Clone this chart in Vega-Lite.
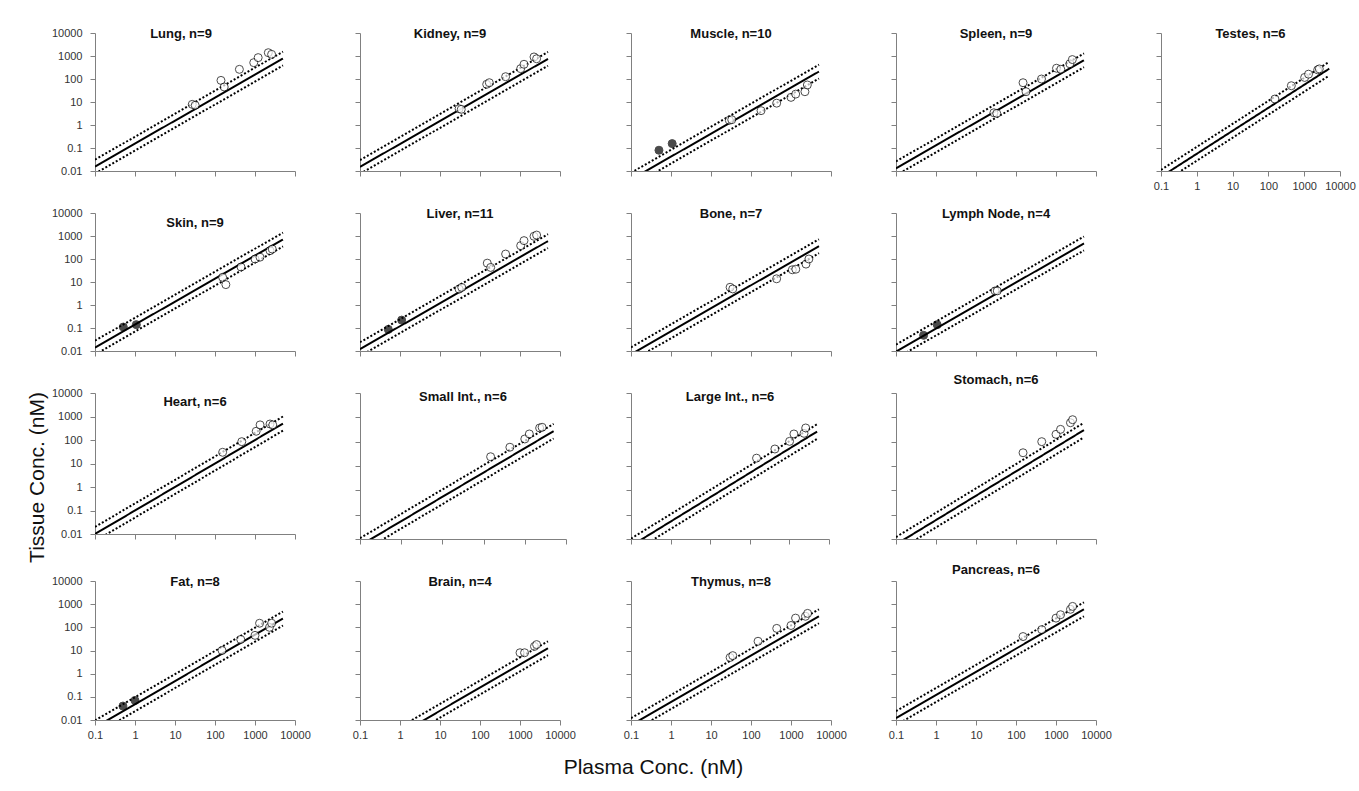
{
"$schema":"https://vega.github.io/schema/vega-lite/v6.json",
"background":"white",
"padding":{"left":26,"top":27,"right":10,"bottom":8},
"columns":5,
"bounds":"flush",
"align":"each",
"spacing":{"row":42,"column":65},
"datasets":{
"pts":[
{"t":"Lung","f":"o","x":27,"y":7.9},{"t":"Lung","f":"o","x":32,"y":7.2},{"t":"Lung","f":"o","x":141,"y":87},{"t":"Lung","f":"o","x":170,"y":45},{"t":"Lung","f":"o","x":407,"y":263},{"t":"Lung","f":"o","x":930,"y":513},{"t":"Lung","f":"o","x":1200,"y":850},{"t":"Lung","f":"o","x":2150,"y":1390},{"t":"Lung","f":"o","x":2600,"y":1180},
{"t":"Kidney","f":"o","x":30,"y":5.1},{"t":"Kidney","f":"o","x":34,"y":4.8},{"t":"Kidney","f":"o","x":147,"y":59},{"t":"Kidney","f":"o","x":171,"y":69},{"t":"Kidney","f":"o","x":437,"y":126},{"t":"Kidney","f":"o","x":1040,"y":282},{"t":"Kidney","f":"o","x":1260,"y":436},{"t":"Kidney","f":"o","x":2240,"y":910},{"t":"Kidney","f":"o","x":2600,"y":760},
{"t":"Muscle","f":"f","x":0.5,"y":0.08},{"t":"Muscle","f":"f","x":1.07,"y":0.155},{"t":"Muscle","f":"o","x":28.7,"y":1.6},{"t":"Muscle","f":"o","x":33,"y":1.7},{"t":"Muscle","f":"o","x":178,"y":4.2},{"t":"Muscle","f":"o","x":438,"y":8.9},{"t":"Muscle","f":"o","x":1000,"y":15.9},{"t":"Muscle","f":"o","x":1310,"y":22},{"t":"Muscle","f":"o","x":2230,"y":28},{"t":"Muscle","f":"o","x":2560,"y":55},
{"t":"Spleen","f":"o","x":28,"y":3.4},{"t":"Spleen","f":"o","x":33,"y":3.2},{"t":"Spleen","f":"o","x":150,"y":69},{"t":"Spleen","f":"o","x":178,"y":28},{"t":"Spleen","f":"o","x":434,"y":100},{"t":"Spleen","f":"o","x":1030,"y":294},{"t":"Spleen","f":"o","x":1320,"y":265},{"t":"Spleen","f":"o","x":2220,"y":460},{"t":"Spleen","f":"o","x":2560,"y":700},
{"t":"Testes","f":"o","x":152,"y":13.5},{"t":"Testes","f":"o","x":437,"y":51},{"t":"Testes","f":"o","x":1030,"y":117},{"t":"Testes","f":"o","x":1320,"y":162},{"t":"Testes","f":"o","x":2380,"y":250},{"t":"Testes","f":"o","x":2640,"y":275},
{"t":"Skin","f":"f","x":0.51,"y":0.11},{"t":"Skin","f":"f","x":1.08,"y":0.14},{"t":"Skin","f":"o","x":155,"y":16},{"t":"Skin","f":"o","x":187,"y":7.7},{"t":"Skin","f":"o","x":447,"y":45},{"t":"Skin","f":"o","x":1000,"y":100},{"t":"Skin","f":"o","x":1330,"y":120},{"t":"Skin","f":"o","x":2370,"y":230},{"t":"Skin","f":"o","x":2700,"y":270},
{"t":"Liver","f":"f","x":0.51,"y":0.087},{"t":"Liver","f":"f","x":1.1,"y":0.22},{"t":"Liver","f":"o","x":30,"y":4.9},{"t":"Liver","f":"o","x":35,"y":5.8},{"t":"Liver","f":"o","x":152,"y":66},{"t":"Liver","f":"o","x":185,"y":43},{"t":"Liver","f":"o","x":437,"y":164},{"t":"Liver","f":"o","x":1040,"y":380},{"t":"Liver","f":"o","x":1260,"y":630},{"t":"Liver","f":"o","x":2240,"y":970},{"t":"Liver","f":"o","x":2600,"y":1100},
{"t":"Bone","f":"o","x":30,"y":5.9},{"t":"Bone","f":"o","x":35,"y":5.0},{"t":"Bone","f":"o","x":437,"y":13.8},{"t":"Bone","f":"o","x":1080,"y":34},{"t":"Bone","f":"o","x":1320,"y":36},{"t":"Bone","f":"o","x":2370,"y":60},{"t":"Bone","f":"o","x":2800,"y":100},
{"t":"Lymph","f":"f","x":0.49,"y":0.048},{"t":"Lymph","f":"f","x":1.07,"y":0.14},{"t":"Lymph","f":"o","x":30,"y":4.1},{"t":"Lymph","f":"o","x":34,"y":4.1},
{"t":"Heart","f":"o","x":155,"y":30},{"t":"Heart","f":"o","x":467,"y":85},{"t":"Heart","f":"o","x":1070,"y":235},{"t":"Heart","f":"o","x":1340,"y":440},{"t":"Heart","f":"o","x":2370,"y":480},{"t":"Heart","f":"o","x":2780,"y":440},
{"t":"SmallInt","f":"o","x":148,"y":24},{"t":"SmallInt","f":"o","x":434,"y":59},{"t":"SmallInt","f":"o","x":1000,"y":129},{"t":"SmallInt","f":"o","x":1290,"y":207},{"t":"SmallInt","f":"o","x":2290,"y":365},{"t":"SmallInt","f":"o","x":2630,"y":390},
{"t":"LargeInt","f":"o","x":148,"y":21},{"t":"LargeInt","f":"o","x":430,"y":50},{"t":"LargeInt","f":"o","x":1010,"y":103},{"t":"LargeInt","f":"o","x":1300,"y":207},{"t":"LargeInt","f":"o","x":2340,"y":220},{"t":"LargeInt","f":"o","x":2580,"y":365},
{"t":"Stomach","f":"o","x":150,"y":35},{"t":"Stomach","f":"o","x":440,"y":100},{"t":"Stomach","f":"o","x":1000,"y":200},{"t":"Stomach","f":"o","x":1300,"y":320},{"t":"Stomach","f":"o","x":2300,"y":600},{"t":"Stomach","f":"o","x":2600,"y":800},
{"t":"Fat","f":"f","x":0.5,"y":0.04},{"t":"Fat","f":"f","x":1.0,"y":0.07},{"t":"Fat","f":"o","x":150,"y":10},{"t":"Fat","f":"o","x":440,"y":30},{"t":"Fat","f":"o","x":1000,"y":45},{"t":"Fat","f":"o","x":1300,"y":150},{"t":"Fat","f":"o","x":2300,"y":100},{"t":"Fat","f":"o","x":2600,"y":150},
{"t":"Brain","f":"o","x":1000,"y":8},{"t":"Brain","f":"o","x":1300,"y":8},{"t":"Brain","f":"o","x":2300,"y":15},{"t":"Brain","f":"o","x":2600,"y":18},
{"t":"Thymus","f":"o","x":30,"y":5},{"t":"Thymus","f":"o","x":35,"y":6},{"t":"Thymus","f":"o","x":150,"y":25},{"t":"Thymus","f":"o","x":440,"y":90},{"t":"Thymus","f":"o","x":1000,"y":120},{"t":"Thymus","f":"o","x":1300,"y":250},{"t":"Thymus","f":"o","x":2300,"y":300},{"t":"Thymus","f":"o","x":2600,"y":400},
{"t":"Pancreas","f":"o","x":150,"y":40},{"t":"Pancreas","f":"o","x":440,"y":80},{"t":"Pancreas","f":"o","x":1000,"y":250},{"t":"Pancreas","f":"o","x":1300,"y":350},{"t":"Pancreas","f":"o","x":2300,"y":600},{"t":"Pancreas","f":"o","x":2600,"y":800}
],
"lines":[
{"t":"Lung","k":"s","x":0.1,"y":0.0155},{"t":"Lung","k":"s","x":5000,"y":775},{"t":"Lung","k":"u","x":0.1,"y":0.031},{"t":"Lung","k":"u","x":5000,"y":1550},{"t":"Lung","k":"l","x":0.1,"y":0.00775},{"t":"Lung","k":"l","x":5000,"y":387.5},
{"t":"Kidney","k":"s","x":0.1,"y":0.015},{"t":"Kidney","k":"s","x":5000,"y":750},{"t":"Kidney","k":"u","x":0.1,"y":0.03},{"t":"Kidney","k":"u","x":5000,"y":1500},{"t":"Kidney","k":"l","x":0.1,"y":0.0075},{"t":"Kidney","k":"l","x":5000,"y":375},
{"t":"Muscle","k":"s","x":0.1,"y":0.0042},{"t":"Muscle","k":"s","x":5000,"y":210},{"t":"Muscle","k":"u","x":0.1,"y":0.0084},{"t":"Muscle","k":"u","x":5000,"y":420},{"t":"Muscle","k":"l","x":0.1,"y":0.0021},{"t":"Muscle","k":"l","x":5000,"y":105},
{"t":"Spleen","k":"s","x":0.1,"y":0.013},{"t":"Spleen","k":"s","x":5000,"y":650},{"t":"Spleen","k":"u","x":0.1,"y":0.026},{"t":"Spleen","k":"u","x":5000,"y":1300},{"t":"Spleen","k":"l","x":0.1,"y":0.0065},{"t":"Spleen","k":"l","x":5000,"y":325},
{"t":"Testes","k":"s","x":0.1,"y":0.0056},{"t":"Testes","k":"s","x":5000,"y":280},{"t":"Testes","k":"u","x":0.1,"y":0.0112},{"t":"Testes","k":"u","x":5000,"y":560},{"t":"Testes","k":"l","x":0.1,"y":0.0028},{"t":"Testes","k":"l","x":5000,"y":140},
{"t":"Skin","k":"s","x":0.1,"y":0.014},{"t":"Skin","k":"s","x":5000,"y":700},{"t":"Skin","k":"u","x":0.1,"y":0.028},{"t":"Skin","k":"u","x":5000,"y":1400},{"t":"Skin","k":"l","x":0.1,"y":0.007},{"t":"Skin","k":"l","x":5000,"y":350},
{"t":"Liver","k":"s","x":0.1,"y":0.012},{"t":"Liver","k":"s","x":5000,"y":600},{"t":"Liver","k":"u","x":0.1,"y":0.024},{"t":"Liver","k":"u","x":5000,"y":1200},{"t":"Liver","k":"l","x":0.1,"y":0.006},{"t":"Liver","k":"l","x":5000,"y":300},
{"t":"Bone","k":"s","x":0.1,"y":0.0072},{"t":"Bone","k":"s","x":5000,"y":360},{"t":"Bone","k":"u","x":0.1,"y":0.0144},{"t":"Bone","k":"u","x":5000,"y":720},{"t":"Bone","k":"l","x":0.1,"y":0.0036},{"t":"Bone","k":"l","x":5000,"y":180},
{"t":"Lymph","k":"s","x":0.1,"y":0.0095},{"t":"Lymph","k":"s","x":5000,"y":475},{"t":"Lymph","k":"u","x":0.1,"y":0.019},{"t":"Lymph","k":"u","x":5000,"y":950},{"t":"Lymph","k":"l","x":0.1,"y":0.00475},{"t":"Lymph","k":"l","x":5000,"y":237.5},
{"t":"Heart","k":"s","x":0.1,"y":0.01},{"t":"Heart","k":"s","x":5000,"y":500},{"t":"Heart","k":"u","x":0.1,"y":0.02},{"t":"Heart","k":"u","x":5000,"y":1000},{"t":"Heart","k":"l","x":0.1,"y":0.005},{"t":"Heart","k":"l","x":5000,"y":250},
{"t":"SmallInt","k":"s","x":0.1,"y":0.0054},{"t":"SmallInt","k":"s","x":5000,"y":270},{"t":"SmallInt","k":"u","x":0.1,"y":0.0108},{"t":"SmallInt","k":"u","x":5000,"y":540},{"t":"SmallInt","k":"l","x":0.1,"y":0.0027},{"t":"SmallInt","k":"l","x":5000,"y":135},
{"t":"LargeInt","k":"s","x":0.1,"y":0.0052},{"t":"LargeInt","k":"s","x":5000,"y":260},{"t":"LargeInt","k":"u","x":0.1,"y":0.0104},{"t":"LargeInt","k":"u","x":5000,"y":520},{"t":"LargeInt","k":"l","x":0.1,"y":0.0026},{"t":"LargeInt","k":"l","x":5000,"y":130},
{"t":"Stomach","k":"s","x":0.1,"y":0.006},{"t":"Stomach","k":"s","x":5000,"y":300},{"t":"Stomach","k":"u","x":0.1,"y":0.012},{"t":"Stomach","k":"u","x":5000,"y":600},{"t":"Stomach","k":"l","x":0.1,"y":0.003},{"t":"Stomach","k":"l","x":5000,"y":150},
{"t":"Fat","k":"s","x":0.1,"y":0.0048},{"t":"Fat","k":"s","x":5000,"y":240},{"t":"Fat","k":"u","x":0.1,"y":0.0096},{"t":"Fat","k":"u","x":5000,"y":480},{"t":"Fat","k":"l","x":0.1,"y":0.0024},{"t":"Fat","k":"l","x":5000,"y":120},
{"t":"Brain","k":"s","x":0.1,"y":0.00025},{"t":"Brain","k":"s","x":5000,"y":12.5},{"t":"Brain","k":"u","x":0.1,"y":0.0005},{"t":"Brain","k":"u","x":5000,"y":25},{"t":"Brain","k":"l","x":0.1,"y":0.000125},{"t":"Brain","k":"l","x":5000,"y":6.25},
{"t":"Thymus","k":"s","x":0.1,"y":0.006},{"t":"Thymus","k":"s","x":5000,"y":300},{"t":"Thymus","k":"u","x":0.1,"y":0.012},{"t":"Thymus","k":"u","x":5000,"y":600},{"t":"Thymus","k":"l","x":0.1,"y":0.003},{"t":"Thymus","k":"l","x":5000,"y":150},
{"t":"Pancreas","k":"s","x":0.1,"y":0.012},{"t":"Pancreas","k":"s","x":5000,"y":600},{"t":"Pancreas","k":"u","x":0.1,"y":0.024},{"t":"Pancreas","k":"u","x":5000,"y":1200},{"t":"Pancreas","k":"l","x":0.1,"y":0.006},{"t":"Pancreas","k":"l","x":5000,"y":300}
]},
"concat":[
{"width":200,"height":138,"title":{"text":"Lung, n=9","offset":-14,"dx":-14},
 "encoding":{"x":{"field":"x","type":"quantitative","title":null,"scale":{"type":"log","domain":[0.1,10000],"nice":false},"axis":{"values":[0.1,1,10,100,1000,10000],"labels":false}},
 "y":{"field":"y","type":"quantitative","title":null,"scale":{"type":"log","domain":[0.01,10000],"nice":false},"axis":{"values":[0.01,0.1,1,10,100,1000,10000],"format":"~g"}}},
 "layer":[
 {"data":{"name":"lines"},"transform":[{"filter":"datum.t=='Lung'"}],"mark":{"type":"line","clip":true,"color":"black","strokeWidth":2},"encoding":{"detail":{"field":"k"},"strokeDash":{"field":"k","type":"nominal","scale":{"domain":["s","u","l"],"range":[[1,0],[2,2],[2,2]]},"legend":null}}},
 {"data":{"name":"pts"},"transform":[{"filter":"datum.t=='Lung'"}],"mark":{"type":"point","shape":"circle","filled":true,"stroke":"black","strokeWidth":1,"size":64},"encoding":{"fill":{"field":"f","type":"nominal","scale":{"domain":["o","f"],"range":["white","black"]},"legend":null}}}]},
{"width":200,"height":138,"title":{"text":"Kidney, n=9","offset":-8,"dx":-10},
 "encoding":{"x":{"field":"x","type":"quantitative","title":null,"scale":{"type":"log","domain":[0.1,10000],"nice":false},"axis":{"values":[0.1,1,10,100,1000,10000],"labels":false}},
 "y":{"field":"y","type":"quantitative","title":null,"scale":{"type":"log","domain":[0.01,10000],"nice":false},"axis":{"values":[0.01,0.1,1,10,100,1000,10000],"labels":false}}},
 "layer":[
 {"data":{"name":"lines"},"transform":[{"filter":"datum.t=='Kidney'"}],"mark":{"type":"line","clip":true,"color":"black","strokeWidth":2},"encoding":{"detail":{"field":"k"},"strokeDash":{"field":"k","type":"nominal","scale":{"domain":["s","u","l"],"range":[[1,0],[2,2],[2,2]]},"legend":null}}},
 {"data":{"name":"pts"},"transform":[{"filter":"datum.t=='Kidney'"}],"mark":{"type":"point","shape":"circle","filled":true,"stroke":"black","strokeWidth":1,"size":64},"encoding":{"fill":{"field":"f","type":"nominal","scale":{"domain":["o","f"],"range":["white","black"]},"legend":null}}}]},
{"width":200,"height":138,"title":{"text":"Muscle, n=10","offset":-8},
 "encoding":{"x":{"field":"x","type":"quantitative","title":null,"scale":{"type":"log","domain":[0.1,10000],"nice":false},"axis":{"values":[0.1,1,10,100,1000,10000],"labels":false}},
 "y":{"field":"y","type":"quantitative","title":null,"scale":{"type":"log","domain":[0.01,10000],"nice":false},"axis":{"values":[0.01,0.1,1,10,100,1000,10000],"labels":false}}},
 "layer":[
 {"data":{"name":"lines"},"transform":[{"filter":"datum.t=='Muscle'"}],"mark":{"type":"line","clip":true,"color":"black","strokeWidth":2},"encoding":{"detail":{"field":"k"},"strokeDash":{"field":"k","type":"nominal","scale":{"domain":["s","u","l"],"range":[[1,0],[2,2],[2,2]]},"legend":null}}},
 {"data":{"name":"pts"},"transform":[{"filter":"datum.t=='Muscle'"}],"mark":{"type":"point","shape":"circle","filled":true,"stroke":"black","strokeWidth":1,"size":64},"encoding":{"fill":{"field":"f","type":"nominal","scale":{"domain":["o","f"],"range":["white","black"]},"legend":null}}}]},
{"width":200,"height":138,"title":{"text":"Spleen, n=9","offset":-8},
 "encoding":{"x":{"field":"x","type":"quantitative","title":null,"scale":{"type":"log","domain":[0.1,10000],"nice":false},"axis":{"values":[0.1,1,10,100,1000,10000],"labels":false}},
 "y":{"field":"y","type":"quantitative","title":null,"scale":{"type":"log","domain":[0.01,10000],"nice":false},"axis":{"values":[0.01,0.1,1,10,100,1000,10000],"labels":false}}},
 "layer":[
 {"data":{"name":"lines"},"transform":[{"filter":"datum.t=='Spleen'"}],"mark":{"type":"line","clip":true,"color":"black","strokeWidth":2},"encoding":{"detail":{"field":"k"},"strokeDash":{"field":"k","type":"nominal","scale":{"domain":["s","u","l"],"range":[[1,0],[2,2],[2,2]]},"legend":null}}},
 {"data":{"name":"pts"},"transform":[{"filter":"datum.t=='Spleen'"}],"mark":{"type":"point","shape":"circle","filled":true,"stroke":"black","strokeWidth":1,"size":64},"encoding":{"fill":{"field":"f","type":"nominal","scale":{"domain":["o","f"],"range":["white","black"]},"legend":null}}}]},
{"width":179,"height":138,"title":{"text":"Testes, n=6","offset":-8},
 "encoding":{"x":{"field":"x","type":"quantitative","title":null,"scale":{"type":"log","domain":[0.1,10000],"nice":false},"axis":{"values":[0.1,1,10,100,1000,10000],"format":"~g"}},
 "y":{"field":"y","type":"quantitative","title":null,"scale":{"type":"log","domain":[0.01,10000],"nice":false},"axis":{"values":[0.01,0.1,1,10,100,1000,10000],"labels":false}}},
 "layer":[
 {"data":{"name":"lines"},"transform":[{"filter":"datum.t=='Testes'"}],"mark":{"type":"line","clip":true,"color":"black","strokeWidth":2},"encoding":{"detail":{"field":"k"},"strokeDash":{"field":"k","type":"nominal","scale":{"domain":["s","u","l"],"range":[[1,0],[2,2],[2,2]]},"legend":null}}},
 {"data":{"name":"pts"},"transform":[{"filter":"datum.t=='Testes'"}],"mark":{"type":"point","shape":"circle","filled":true,"stroke":"black","strokeWidth":1,"size":64},"encoding":{"fill":{"field":"f","type":"nominal","scale":{"domain":["o","f"],"range":["white","black"]},"legend":null}}}]},
{"width":200,"height":138,"title":{"text":"Skin, n=9","offset":-23},
 "encoding":{"x":{"field":"x","type":"quantitative","title":null,"scale":{"type":"log","domain":[0.1,10000],"nice":false},"axis":{"values":[0.1,1,10,100,1000,10000],"labels":false}},
 "y":{"field":"y","type":"quantitative","title":null,"scale":{"type":"log","domain":[0.01,10000],"nice":false},"axis":{"values":[0.01,0.1,1,10,100,1000,10000],"format":"~g"}}},
 "layer":[
 {"data":{"name":"lines"},"transform":[{"filter":"datum.t=='Skin'"}],"mark":{"type":"line","clip":true,"color":"black","strokeWidth":2},"encoding":{"detail":{"field":"k"},"strokeDash":{"field":"k","type":"nominal","scale":{"domain":["s","u","l"],"range":[[1,0],[2,2],[2,2]]},"legend":null}}},
 {"data":{"name":"pts"},"transform":[{"filter":"datum.t=='Skin'"}],"mark":{"type":"point","shape":"circle","filled":true,"stroke":"black","strokeWidth":1,"size":64},"encoding":{"fill":{"field":"f","type":"nominal","scale":{"domain":["o","f"],"range":["white","black"]},"legend":null}}}]},
{"width":200,"height":138,"title":{"text":"Liver, n=11","offset":-8},
 "encoding":{"x":{"field":"x","type":"quantitative","title":null,"scale":{"type":"log","domain":[0.1,10000],"nice":false},"axis":{"values":[0.1,1,10,100,1000,10000],"labels":false}},
 "y":{"field":"y","type":"quantitative","title":null,"scale":{"type":"log","domain":[0.01,10000],"nice":false},"axis":{"values":[0.01,0.1,1,10,100,1000,10000],"labels":false}}},
 "layer":[
 {"data":{"name":"lines"},"transform":[{"filter":"datum.t=='Liver'"}],"mark":{"type":"line","clip":true,"color":"black","strokeWidth":2},"encoding":{"detail":{"field":"k"},"strokeDash":{"field":"k","type":"nominal","scale":{"domain":["s","u","l"],"range":[[1,0],[2,2],[2,2]]},"legend":null}}},
 {"data":{"name":"pts"},"transform":[{"filter":"datum.t=='Liver'"}],"mark":{"type":"point","shape":"circle","filled":true,"stroke":"black","strokeWidth":1,"size":64},"encoding":{"fill":{"field":"f","type":"nominal","scale":{"domain":["o","f"],"range":["white","black"]},"legend":null}}}]},
{"width":200,"height":138,"title":{"text":"Bone, n=7","offset":-8},
 "encoding":{"x":{"field":"x","type":"quantitative","title":null,"scale":{"type":"log","domain":[0.1,10000],"nice":false},"axis":{"values":[0.1,1,10,100,1000,10000],"labels":false}},
 "y":{"field":"y","type":"quantitative","title":null,"scale":{"type":"log","domain":[0.01,10000],"nice":false},"axis":{"values":[0.01,0.1,1,10,100,1000,10000],"labels":false}}},
 "layer":[
 {"data":{"name":"lines"},"transform":[{"filter":"datum.t=='Bone'"}],"mark":{"type":"line","clip":true,"color":"black","strokeWidth":2},"encoding":{"detail":{"field":"k"},"strokeDash":{"field":"k","type":"nominal","scale":{"domain":["s","u","l"],"range":[[1,0],[2,2],[2,2]]},"legend":null}}},
 {"data":{"name":"pts"},"transform":[{"filter":"datum.t=='Bone'"}],"mark":{"type":"point","shape":"circle","filled":true,"stroke":"black","strokeWidth":1,"size":64},"encoding":{"fill":{"field":"f","type":"nominal","scale":{"domain":["o","f"],"range":["white","black"]},"legend":null}}}]},
{"width":200,"height":138,"title":{"text":"Lymph Node, n=4","offset":-8},
 "encoding":{"x":{"field":"x","type":"quantitative","title":null,"scale":{"type":"log","domain":[0.1,10000],"nice":false},"axis":{"values":[0.1,1,10,100,1000,10000],"labels":false}},
 "y":{"field":"y","type":"quantitative","title":null,"scale":{"type":"log","domain":[0.01,10000],"nice":false},"axis":{"values":[0.01,0.1,1,10,100,1000,10000],"labels":false}}},
 "layer":[
 {"data":{"name":"lines"},"transform":[{"filter":"datum.t=='Lymph'"}],"mark":{"type":"line","clip":true,"color":"black","strokeWidth":2},"encoding":{"detail":{"field":"k"},"strokeDash":{"field":"k","type":"nominal","scale":{"domain":["s","u","l"],"range":[[1,0],[2,2],[2,2]]},"legend":null}}},
 {"data":{"name":"pts"},"transform":[{"filter":"datum.t=='Lymph'"}],"mark":{"type":"point","shape":"circle","filled":true,"stroke":"black","strokeWidth":1,"size":64},"encoding":{"fill":{"field":"f","type":"nominal","scale":{"domain":["o","f"],"range":["white","black"]},"legend":null}}}]},
{"width":179,"height":138,"data":{"values":[]},"mark":{"type":"point","opacity":0}},
{"width":200,"height":141,"title":{"text":"Heart, n=6","offset":-22},
 "encoding":{"x":{"field":"x","type":"quantitative","title":null,"scale":{"type":"log","domain":[0.1,10000],"nice":false},"axis":{"values":[0.1,1,10,100,1000,10000],"labels":false}},
 "y":{"field":"y","type":"quantitative","title":"Tissue Conc. (nM)","scale":{"type":"log","domain":[0.01,10000],"nice":false},"axis":{"values":[0.01,0.1,1,10,100,1000,10000],"format":"~g","titleFontSize":21,"titlePadding":4,"titleY":84,"titleColor":"#111111"}}},
 "layer":[
 {"data":{"name":"lines"},"transform":[{"filter":"datum.t=='Heart'"}],"mark":{"type":"line","clip":true,"color":"black","strokeWidth":2},"encoding":{"detail":{"field":"k"},"strokeDash":{"field":"k","type":"nominal","scale":{"domain":["s","u","l"],"range":[[1,0],[2,2],[2,2]]},"legend":null}}},
 {"data":{"name":"pts"},"transform":[{"filter":"datum.t=='Heart'"}],"mark":{"type":"point","shape":"circle","filled":true,"stroke":"black","strokeWidth":1,"size":64},"encoding":{"fill":{"field":"f","type":"nominal","scale":{"domain":["o","f"],"range":["white","black"]},"legend":null}}}]},
{"width":206,"height":146,"title":{"text":"Small Int., n=6","offset":-11},
 "encoding":{"x":{"field":"x","type":"quantitative","title":null,"scale":{"type":"log","domain":[0.1,10000],"nice":false},"axis":{"values":[0.1,1,10,100,1000,10000],"labels":false}},
 "y":{"field":"y","type":"quantitative","title":null,"scale":{"type":"log","domain":[0.01,10000],"nice":false},"axis":{"values":[0.01,0.1,1,10,100,1000,10000],"labels":false}}},
 "layer":[
 {"data":{"name":"lines"},"transform":[{"filter":"datum.t=='SmallInt'"}],"mark":{"type":"line","clip":true,"color":"black","strokeWidth":2},"encoding":{"detail":{"field":"k"},"strokeDash":{"field":"k","type":"nominal","scale":{"domain":["s","u","l"],"range":[[1,0],[2,2],[2,2]]},"legend":null}}},
 {"data":{"name":"pts"},"transform":[{"filter":"datum.t=='SmallInt'"}],"mark":{"type":"point","shape":"circle","filled":true,"stroke":"black","strokeWidth":1,"size":64},"encoding":{"fill":{"field":"f","type":"nominal","scale":{"domain":["o","f"],"range":["white","black"]},"legend":null}}}]},
{"width":198,"height":146,"title":{"text":"Large Int., n=6","offset":-11},
 "encoding":{"x":{"field":"x","type":"quantitative","title":null,"scale":{"type":"log","domain":[0.1,10000],"nice":false},"axis":{"values":[0.1,1,10,100,1000,10000],"labels":false}},
 "y":{"field":"y","type":"quantitative","title":null,"scale":{"type":"log","domain":[0.01,10000],"nice":false},"axis":{"values":[0.01,0.1,1,10,100,1000,10000],"labels":false}}},
 "layer":[
 {"data":{"name":"lines"},"transform":[{"filter":"datum.t=='LargeInt'"}],"mark":{"type":"line","clip":true,"color":"black","strokeWidth":2},"encoding":{"detail":{"field":"k"},"strokeDash":{"field":"k","type":"nominal","scale":{"domain":["s","u","l"],"range":[[1,0],[2,2],[2,2]]},"legend":null}}},
 {"data":{"name":"pts"},"transform":[{"filter":"datum.t=='LargeInt'"}],"mark":{"type":"point","shape":"circle","filled":true,"stroke":"black","strokeWidth":1,"size":64},"encoding":{"fill":{"field":"f","type":"nominal","scale":{"domain":["o","f"],"range":["white","black"]},"legend":null}}}]},
{"width":200,"height":146,"title":{"text":"Stomach, n=6","offset":6},
 "encoding":{"x":{"field":"x","type":"quantitative","title":null,"scale":{"type":"log","domain":[0.1,10000],"nice":false},"axis":{"values":[0.1,1,10,100,1000,10000],"labels":false}},
 "y":{"field":"y","type":"quantitative","title":null,"scale":{"type":"log","domain":[0.01,10000],"nice":false},"axis":{"values":[0.01,0.1,1,10,100,1000,10000],"labels":false}}},
 "layer":[
 {"data":{"name":"lines"},"transform":[{"filter":"datum.t=='Stomach'"}],"mark":{"type":"line","clip":true,"color":"black","strokeWidth":2},"encoding":{"detail":{"field":"k"},"strokeDash":{"field":"k","type":"nominal","scale":{"domain":["s","u","l"],"range":[[1,0],[2,2],[2,2]]},"legend":null}}},
 {"data":{"name":"pts"},"transform":[{"filter":"datum.t=='Stomach'"}],"mark":{"type":"point","shape":"circle","filled":true,"stroke":"black","strokeWidth":1,"size":64},"encoding":{"fill":{"field":"f","type":"nominal","scale":{"domain":["o","f"],"range":["white","black"]},"legend":null}}}]},
{"width":179,"height":138,"data":{"values":[]},"mark":{"type":"point","opacity":0}},
{"width":200,"height":139,"title":{"text":"Fat, n=8","offset":-14},
 "encoding":{"x":{"field":"x","type":"quantitative","title":null,"scale":{"type":"log","domain":[0.1,10000],"nice":false},"axis":{"values":[0.1,1,10,100,1000,10000],"format":"~g"}},
 "y":{"field":"y","type":"quantitative","title":null,"scale":{"type":"log","domain":[0.01,10000],"nice":false},"axis":{"values":[0.01,0.1,1,10,100,1000,10000],"format":"~g"}}},
 "layer":[
 {"data":{"name":"lines"},"transform":[{"filter":"datum.t=='Fat'"}],"mark":{"type":"line","clip":true,"color":"black","strokeWidth":2},"encoding":{"detail":{"field":"k"},"strokeDash":{"field":"k","type":"nominal","scale":{"domain":["s","u","l"],"range":[[1,0],[2,2],[2,2]]},"legend":null}}},
 {"data":{"name":"pts"},"transform":[{"filter":"datum.t=='Fat'"}],"mark":{"type":"point","shape":"circle","filled":true,"stroke":"black","strokeWidth":1,"size":64},"encoding":{"fill":{"field":"f","type":"nominal","scale":{"domain":["o","f"],"range":["white","black"]},"legend":null}}}]},
{"width":200,"height":139,"title":{"text":"Brain, n=4","offset":-8},
 "encoding":{"x":{"field":"x","type":"quantitative","title":null,"scale":{"type":"log","domain":[0.1,10000],"nice":false},"axis":{"values":[0.1,1,10,100,1000,10000],"format":"~g"}},
 "y":{"field":"y","type":"quantitative","title":null,"scale":{"type":"log","domain":[0.01,10000],"nice":false},"axis":{"values":[0.01,0.1,1,10,100,1000,10000],"labels":false}}},
 "layer":[
 {"data":{"name":"lines"},"transform":[{"filter":"datum.t=='Brain'"}],"mark":{"type":"line","clip":true,"color":"black","strokeWidth":2},"encoding":{"detail":{"field":"k"},"strokeDash":{"field":"k","type":"nominal","scale":{"domain":["s","u","l"],"range":[[1,0],[2,2],[2,2]]},"legend":null}}},
 {"data":{"name":"pts"},"transform":[{"filter":"datum.t=='Brain'"}],"mark":{"type":"point","shape":"circle","filled":true,"stroke":"black","strokeWidth":1,"size":64},"encoding":{"fill":{"field":"f","type":"nominal","scale":{"domain":["o","f"],"range":["white","black"]},"legend":null}}}]},
{"width":200,"height":139,"title":{"text":"Thymus, n=8","offset":-8},
 "encoding":{"x":{"field":"x","type":"quantitative","title":"Plasma Conc. (nM)","scale":{"type":"log","domain":[0.1,10000],"nice":false},"axis":{"values":[0.1,1,10,100,1000,10000],"format":"~g","titleFontSize":21,"titleX":22,"titlePadding":16,"titleColor":"#111111"}},
 "y":{"field":"y","type":"quantitative","title":null,"scale":{"type":"log","domain":[0.01,10000],"nice":false},"axis":{"values":[0.01,0.1,1,10,100,1000,10000],"labels":false}}},
 "layer":[
 {"data":{"name":"lines"},"transform":[{"filter":"datum.t=='Thymus'"}],"mark":{"type":"line","clip":true,"color":"black","strokeWidth":2},"encoding":{"detail":{"field":"k"},"strokeDash":{"field":"k","type":"nominal","scale":{"domain":["s","u","l"],"range":[[1,0],[2,2],[2,2]]},"legend":null}}},
 {"data":{"name":"pts"},"transform":[{"filter":"datum.t=='Thymus'"}],"mark":{"type":"point","shape":"circle","filled":true,"stroke":"black","strokeWidth":1,"size":64},"encoding":{"fill":{"field":"f","type":"nominal","scale":{"domain":["o","f"],"range":["white","black"]},"legend":null}}}]},
{"width":200,"height":139,"title":{"text":"Pancreas, n=6","offset":4},
 "encoding":{"x":{"field":"x","type":"quantitative","title":null,"scale":{"type":"log","domain":[0.1,10000],"nice":false},"axis":{"values":[0.1,1,10,100,1000,10000],"format":"~g"}},
 "y":{"field":"y","type":"quantitative","title":null,"scale":{"type":"log","domain":[0.01,10000],"nice":false},"axis":{"values":[0.01,0.1,1,10,100,1000,10000],"labels":false}}},
 "layer":[
 {"data":{"name":"lines"},"transform":[{"filter":"datum.t=='Pancreas'"}],"mark":{"type":"line","clip":true,"color":"black","strokeWidth":2},"encoding":{"detail":{"field":"k"},"strokeDash":{"field":"k","type":"nominal","scale":{"domain":["s","u","l"],"range":[[1,0],[2,2],[2,2]]},"legend":null}}},
 {"data":{"name":"pts"},"transform":[{"filter":"datum.t=='Pancreas'"}],"mark":{"type":"point","shape":"circle","filled":true,"stroke":"black","strokeWidth":1,"size":64},"encoding":{"fill":{"field":"f","type":"nominal","scale":{"domain":["o","f"],"range":["white","black"]},"legend":null}}}]}
],
"config":{
 "view":{"stroke":null},
 "font":"Liberation Sans",
 "axis":{"grid":false,"domainColor":"#808080","tickColor":"#808080","tickSize":5,"labelFontSize":11,"labelColor":"#333333","labelFont":"Liberation Sans","labelFlush":false,"labelOverlap":false,"titleFont":"Liberation Sans","titleFontWeight":"normal"},
 "axisY":{"labelPadding":8},
 "axisX":{"labelPadding":4},
 "title":{"font":"Liberation Sans","fontSize":13,"fontWeight":"bold","color":"#111111","baseline":"alphabetic","anchor":"middle"}
}
}
